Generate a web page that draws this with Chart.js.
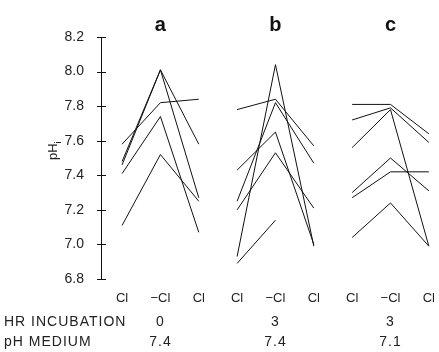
<!DOCTYPE html>
<html>
<head>
<meta charset="utf-8">
<script src="https://cdn.jsdelivr.net/npm/chart.js@4"></script>
<style>
  body { margin: 0; background: #fff; }
  #chart { display: block; }
</style>
</head>
<body>
<canvas id="chart" width="439" height="352"></canvas>
<script>
// Columns along the bottom (3 per panel)
const xLabels = ['Cl', '\u2212Cl', 'Cl', 'Cl', '\u2212Cl', 'Cl', 'Cl', '\u2212Cl', 'Cl'];
const yTicks = [6.8, 7.0, 7.2, 7.4, 7.6, 7.8, 8.0, 8.2];

// Panel info
const panelNames = ['a', 'b', 'c'];
const hrIncubation = ['0', '3', '3'];
const phMedium = ['7.4', '7.4', '7.1'];

// pHi of each cell: Cl, -Cl, Cl
const cellsA = [
  [7.58, 7.82, 7.84],
  [7.48, 8.01, 7.58],
  [7.46, 8.01, 7.27],
  [7.41, 7.74, 7.07],
  [7.11, 7.52, 7.25]
];
const cellsB = [
  [7.78, 7.84, 7.57],
  [7.25, 7.82, 7.47],
  [6.93, 8.04, 6.99],
  [7.43, 7.65, 7.00],
  [7.20, 7.53, 7.21],
  [6.89, 7.14, null]
];
const cellsC = [
  [7.81, 7.81, 7.64],
  [7.72, 7.79, 7.59],
  [7.56, 7.78, 6.99],
  [7.30, 7.50, 7.31],
  [7.27, 7.42, 7.42],
  [7.04, 7.24, 6.99]
];

const FONT = '"Liberation Sans", Arial, sans-serif';

// build one line dataset per cell
let datasets = [];
[cellsA, cellsB, cellsC].forEach(function (cells, p) {
  cells.forEach(function (vals) {
    let pts = [];
    vals.forEach(function (v, i) {
      if (v !== null) pts.push({ x: p * 3 + i, y: v });
    });
    datasets.push({
      data: pts,
      borderColor: '#111',
      borderWidth: 1,
      pointRadius: 0,
      fill: false,
      tension: 0
    });
  });
});

// axis, panel letters, bottom rows
const extras = {
  id: 'extras',
  afterDraw(chart) {
    const ctx = chart.ctx;
    const xs = chart.scales.x, ys = chart.scales.y;
    const ax = chart.chartArea.left;
    ctx.save();
    ctx.strokeStyle = '#111';
    ctx.lineWidth = 1;
    ctx.beginPath();
    ctx.moveTo(ax + 0.5, ys.getPixelForValue(8.2));
    ctx.lineTo(ax + 0.5, ys.getPixelForValue(6.8));
    yTicks.forEach(function (t) {
      const py = Math.round(ys.getPixelForValue(t)) + 0.5;
      ctx.moveTo(ax - 4, py);
      ctx.lineTo(ax + 5, py);
    });
    ctx.stroke();

    // panel letters
    ctx.fillStyle = '#111';
    ctx.textAlign = 'center';
    ctx.textBaseline = 'alphabetic';
    ctx.font = 'bold 20px ' + FONT;
    panelNames.forEach(function (n, p) {
      ctx.fillText(n, xs.getPixelForValue(p * 3 + 1), 31);
    });

    // bottom rows
    ctx.font = '14px ' + FONT;
    ctx.letterSpacing = '1px';
    ctx.fillStyle = '#222';
    ctx.textAlign = 'left';
    ctx.textBaseline = 'middle';
    ctx.fillText('HR INCUBATION', 4, 322);
    ctx.fillText('pH MEDIUM', 4, 342);
    ctx.textAlign = 'center';
    hrIncubation.forEach(function (v, p) {
      ctx.fillText(v, xs.getPixelForValue(p * 3 + 1), 322);
    });
    phMedium.forEach(function (v, p) {
      ctx.fillText(v, xs.getPixelForValue(p * 3 + 1), 342);
    });
    ctx.letterSpacing = '0px';

    // y title pHi
    ctx.translate(53, 150);
    ctx.rotate(-Math.PI / 2);
    ctx.textAlign = 'left';
    ctx.textBaseline = 'alphabetic';
    ctx.font = '13px ' + FONT;
    ctx.fillText('pH', -10, 4);
    const w = ctx.measureText('pH').width;
    ctx.font = '9px ' + FONT;
    ctx.fillText('i', -10 + w, 8);
    ctx.restore();
  }
};

const chart = new Chart(document.getElementById('chart'), {
  type: 'line',
  data: { datasets: datasets },
  options: {
    responsive: false,
    animation: false,
    layout: { padding: { top: 37, right: 2, left: 0, bottom: 0 } },
    plugins: { legend: { display: false }, tooltip: { enabled: false } },
    scales: {
      x: {
        type: 'linear',
        min: -0.55,
        max: 8.1,
        afterBuildTicks(scale) {
          scale.ticks = xLabels.map(function (_, i) { return { value: i }; });
        },
        afterFit(scale) { scale.height = 73; },
        border: { display: false },
        grid: { display: false },
        ticks: {
          autoSkip: false,
          maxRotation: 0,
          padding: 4,
          color: '#222',
          font: { family: FONT, size: 13 },
          callback: function (v) { return xLabels[v]; }
        }
      },
      y: {
        min: 6.8,
        max: 8.2,
        afterBuildTicks(scale) {
          scale.ticks = yTicks.map(function (t) { return { value: t }; });
        },
        afterFit(scale) { scale.width = 101; },
        border: { display: false },
        grid: { display: false },
        ticks: {
          padding: 9,
          color: '#222',
          font: { family: FONT, size: 14 },
          callback: function (v) { return v.toFixed(1); }
        }
      }
    }
  },
  plugins: [extras]
});
</script>
</body>
</html>
